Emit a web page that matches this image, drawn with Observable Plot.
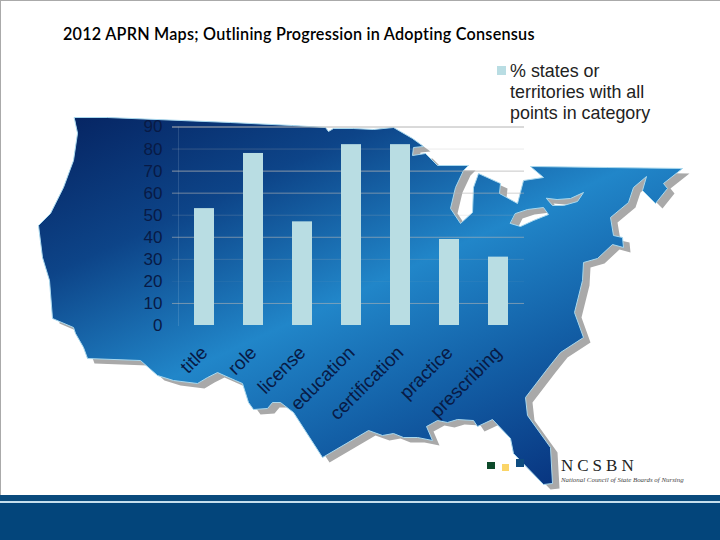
<!DOCTYPE html>
<html>
<head>
<meta charset="utf-8">
<script src="https://cdn.jsdelivr.net/npm/d3@7"></script>
<script src="https://cdn.jsdelivr.net/npm/@observablehq/plot@0.6"></script>
<style>
html,body{margin:0;padding:0;background:#fff}
#page{position:relative;width:720px;height:540px;overflow:hidden;background:#fff}
#page svg{position:absolute;left:0;top:0;background:transparent}
.abs{position:absolute;white-space:nowrap}
</style>
</head>
<body>
<div id="page">
  <div class="abs" style="left:0;top:0;width:720px;height:1px;background:#aaa"></div>
  <div class="abs" style="left:0;top:0;width:1px;height:495px;background:#aaa"></div>
  <div class="abs" style="left:0;top:495px;width:720px;height:6px;background:#0a4a7c"></div>
  <div class="abs" style="left:0;top:501px;width:720px;height:2px;background:#c5dfee"></div>
  <div class="abs" style="left:0;top:503px;width:720px;height:37px;background:#03457b"></div>
  <div class="abs" id="title" style="left:63px;top:24px;font:600 16.2px/20px Lato,sans-serif;letter-spacing:0.23px;color:#000">2012 APRN Maps; Outlining Progression in Adopting Consensus</div>
  <div class="abs" style="left:497px;top:66px;width:9px;height:9px;background:#b9dde3"></div>
  <div class="abs" id="legend" style="left:510px;top:61px;font:17.9px/21px 'Liberation Sans',Arial,sans-serif;color:#222">% states or<br>territories with all<br>points in category</div>
  <div class="abs" style="left:487px;top:462px;width:8px;height:7px;background:#0d4a2a"></div>
  <div class="abs" style="left:502px;top:464px;width:7px;height:7px;background:#fbd568"></div>
  <div class="abs" style="left:516px;top:459px;width:8px;height:8px;background:#0e4c80"></div>
  <div class="abs" id="logo1" style="left:561px;top:456px;font:17px/20px 'Liberation Serif',serif;letter-spacing:4px;color:#222">NCSBN</div>
  <div class="abs" id="logo2" style="left:561px;top:475px;font:italic 6.9px/10px 'Liberation Serif',serif;color:#444">National Council of State Boards of Nursing</div>
</div>
<script>
const categories = ["title","role","license","education","certification","practice","prescribing"];
const values = [53,78,47,82,82,39,31];
const yTicks = [0,10,20,30,40,50,60,70,80,90];
const gridTicks = [10,20,30,40,50,60,70,80,90];
const gridOpacity = [0.6,0.08,0.22,0.6,0.22,0.6,0.75,0.25,1];

// Silhouette behind the chart (picture pixels)
const mapOutline = [[74,117],[107,117],[230,122],[292,125],[325,127],[328,131],[333,128],[353,128],[373,129],[393,127],
 [412,138],[423,146],[413,147],[412,155],[425,153],[437,165],[468,165],[463,170],[455,187],[450,208],[460,223],[472,212],
 [473,187],[478,173],[500,183],[499,193],[517,203],[523,180],[543,177],[530,166],[607,167],[682,168],[663,183],[667,188],
 [655,203],[642,190],[646,176],[633,187],[628,202],[610,217],[613,235],[622,237],[623,247],[612,244],[597,258],[583,262],
 [582,280],[574,312],[583,337],[560,352],[548,367],[525,397],[527,415],[550,447],[552,483],[543,484],[513,453],[510,438],
 [492,419],[477,426],[473,420],[457,419],[447,422],[437,420],[426,426],[432,440],[417,437],[403,437],[393,433],[382,435],
 [368,430],[322,457],[293,412],[280,402],[272,402],[267,408],[253,409],[248,402],[242,383],[235,380],[217,372],[207,377],
 [197,383],[173,380],[157,375],[140,360],[87,358],[83,347],[75,333],[73,327],[52,318],[49,280],[42,257],[38,225],[50,213],
 [63,187],[73,160],[77,133],[74,117]];
const lakeErie = [[510,223],[520,226],[533,220],[548,214],[543,207],[527,209],[515,213],[510,223]];
const lakeOntario = [[546,198],[552,205],[563,205],[577,201],[583,192],[570,198],[557,199],[546,198]];
const land = {type:"Polygon",coordinates:[mapOutline,lakeErie,lakeOntario]};
const rows = categories.map((c,i)=>({category:c,value:values[i]}));

const defs = () => {
  const s = d3.create("svg:defs");
  const g = s.append("linearGradient").attr("id","land").attr("gradientUnits","userSpaceOnUse")
    .attr("x1",75).attr("y1",115).attr("x2",299).attr("y2",601);
  [[0,"#062563"],[0.25,"#0d4488"],[0.52,"#2186c9"],[0.75,"#135fa6"],[1,"#083580"]]
    .forEach(([o,c])=>g.append("stop").attr("offset",o).attr("stop-color",c));
  return s.node();
};

const background = Plot.plot({
  width:720,height:540,margin:0,
  projection:d3.geoIdentity(),
  style:{background:"transparent"},
  marks:[
    defs,
    Plot.geo(land,{fill:"#a9a9a9",dx:7,dy:5}),
    Plot.geo(land,{fill:"url(#land)",stroke:"#a8d8ee",strokeWidth:1})
  ]
});

const chart = Plot.plot({
  width:720,height:540,
  marginLeft:178,marginRight:196,marginTop:126.5,marginBottom:215,
  style:{background:"transparent",fontFamily:"'Liberation Sans',Arial,sans-serif"},
  x:{domain:categories,paddingInner:0.6,paddingOuter:0.3,label:null},
  y:{domain:[0,90],label:null},
  marks:[
    Plot.frame({anchor:"left",stroke:"#cfe3f0",strokeOpacity:0.15}),
    Plot.ruleY(gridTicks,{stroke:"#b4b4b4",strokeOpacity:(d,i)=>gridOpacity[i],insetLeft:-6}),
    Plot.barY(rows,{x:"category",y:"value",fill:"#b9dde3"}),
    Plot.axisY({ticks:yTicks,tickSize:0,tickPadding:16,fontSize:17,fill:"#081a45",label:null}),
    Plot.axisX({tickSize:0,tickPadding:24,tickRotate:-45,fontSize:18.8,fill:"#081a45",label:null})
  ]
});

const page = document.getElementById("page");
page.insertBefore(background,document.getElementById("title"));
page.insertBefore(chart,document.getElementById("title"));
</script>
</body>
</html>
